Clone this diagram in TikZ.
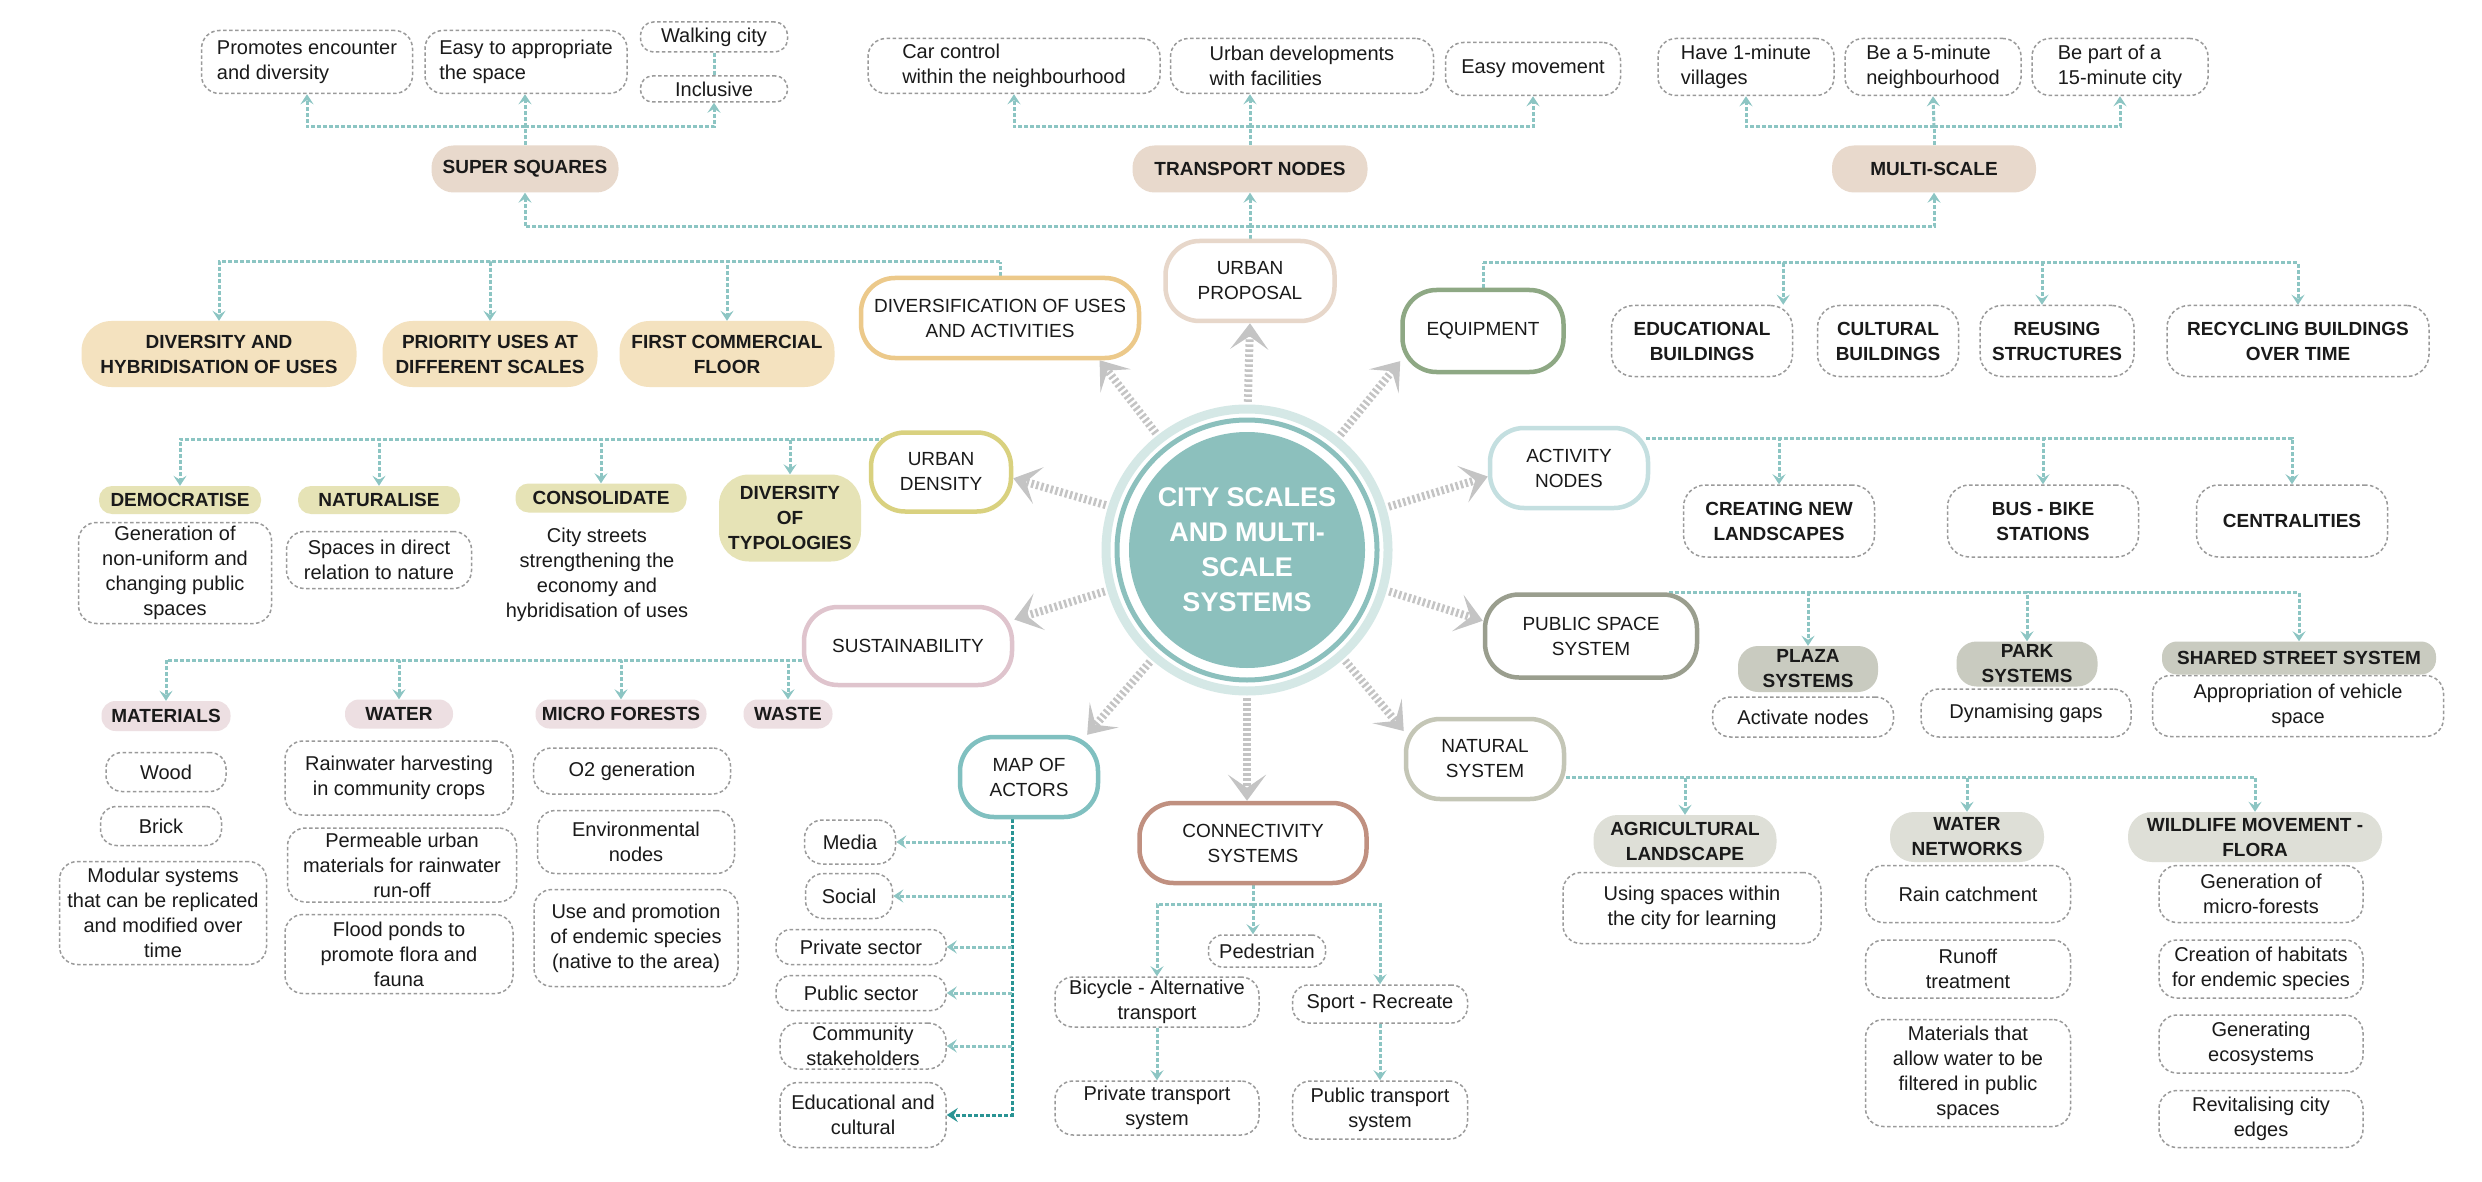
\documentclass[tikz,border=0pt]{standalone}
\usepackage{fontspec}
\setmainfont{Liberation Sans}
\usetikzlibrary{arrows.meta}
\pgfdeclarelayer{bg}
\pgfsetlayers{bg,main}
\definecolor{txt}{HTML}{1A1A1A}
\definecolor{dgray}{HTML}{9A9A9A}
\definecolor{teal1}{HTML}{8CC5C3}
\definecolor{teald}{HTML}{2A9494}
\definecolor{biggray}{HTML}{C4C4C4}
\definecolor{csq}{HTML}{E8D9CC}
\definecolor{ctan}{HTML}{F4E2BF}
\definecolor{colv}{HTML}{E6E3B6}
\definecolor{cpnk}{HTML}{EDDFE2}
\definecolor{cgry}{HTML}{C9CBC0}
\definecolor{clgy}{HTML}{DEDFD7}
\definecolor{cdisc}{HTML}{8CC0BD}
\definecolor{cring}{HTML}{D5E8E6}
\definecolor{upc}{HTML}{E7D7CA}
\definecolor{divc}{HTML}{ECC98A}
\definecolor{eqc}{HTML}{8EA884}
\definecolor{udc}{HTML}{D9D17F}
\definecolor{anc}{HTML}{C4DFE0}
\definecolor{susc}{HTML}{DFC4CD}
\definecolor{psc}{HTML}{9A9E8E}
\definecolor{nsc}{HTML}{C4C6B6}
\definecolor{mac}{HTML}{80C0C0}
\definecolor{csc}{HTML}{C09080}
\begin{document}
\begin{tikzpicture}[x=1pt,y=-1pt,
  nb/.style={align=center, inner sep=0pt, text=txt},
  dbox/.style={nb, draw=dgray, line width=1.5pt, dash pattern=on 3.5pt off 2.5pt, rounded corners=#1, fill=white, font=\fontsize{20}{25}\selectfont},
  dbox/.default=18pt,
  dboxb/.style={dbox=#1, font=\bfseries\fontsize{19}{25}\selectfont},
  dboxb/.default=22pt,
  hdr/.style={nb, rounded corners=#1, font=\bfseries\fontsize{19}{25}\selectfont},
  sat/.style={nb, draw=#1, line width=4.5pt, rounded corners=34pt, fill=white, font=\fontsize{19}{25}\selectfont},
  wh/.style 2 args={minimum width=#1pt, minimum height=#2pt},
  tl/.style={draw=teal1, line width=3pt, dash pattern=on 4pt off 2pt},
  tla/.style={tl, -{Stealth[length=10pt,width=13pt,inset=4pt]}},
  tld/.style={draw=teald, line width=3pt, dash pattern=on 4pt off 2pt, -{Stealth[length=11pt,width=14pt,inset=4pt]}},
  big/.style={draw=biggray, line width=8pt, dash pattern=on 2.5pt off 2.5pt, shorten <=30pt, -{Stealth[length=26pt,width=38pt,inset=13pt]}},
]
\begin{pgfonlayer}{bg}
\path[use as bounding box, fill=white] (0,0) rectangle (2482,1182);
\end{pgfonlayer}

% ---------- centre ----------
\node[circle, fill=cdisc, minimum size=236pt, inner sep=0pt, text=white, align=center, font=\bfseries\fontsize{27}{35}\selectfont] (c) at (1247,550) {CITY SCALES\\AND MULTI-\\SCALE\\SYSTEMS};
\draw[cdisc, line width=5pt] (c.center) circle[radius=130pt];
\draw[cring, line width=9pt] (c.center) circle[radius=141pt];

% ---------- satellites ----------
\node[sat=upc, wh={169}{80}] (up) at (1250,281) {URBAN\\PROPOSAL};
\node[sat=divc, wh={278}{80}] (div) at (1000,318) {DIVERSIFICATION OF USES\\AND ACTIVITIES};
\node[sat=eqc, wh={161}{82}] (eq) at (1483,331) {EQUIPMENT};
\node[sat=udc, wh={140}{79}] (ud) at (941,472) {URBAN\\DENSITY};
\node[sat=anc, wh={158}{80}] (an) at (1569,468) {ACTIVITY\\NODES};
\node[sat=susc, wh={208}{78}] (sus) at (908,646) {SUSTAINABILITY};
\node[sat=psc, wh={212}{83}] (ps) at (1591,636) {PUBLIC SPACE\\SYSTEM};
\node[sat=mac, wh={138}{80}] (ma) at (1029,777) {MAP OF\\ACTORS};
\node[sat=csc, wh={227}{80}] (cs) at (1253,843) {CONNECTIVITY\\SYSTEMS};
\node[sat=nsc, wh={158}{80}] (ns) at (1485,759) {NATURAL\\SYSTEM};

% ---------- top: super squares ----------
\node[hdr=22pt, fill=csq, wh={187}{47}] (ss) at (525,169) {SUPER SQUARES};
\node[dbox, wh={211}{63}, align=left] (promo) at (307,62) {Promotes encounter\\and diversity};
\node[dbox, wh={202}{63}, align=left] (easy) at (526,62) {Easy to appropriate\\the space};
\node[dbox=13pt, wh={147}{30}] (walk) at (714,37) {Walking city};
\node[dbox=12pt, wh={147}{26}] (incl) at (714,89) {Inclusive};

% ---------- top: transport nodes ----------
\node[hdr=22pt, fill=csq, wh={235}{47}] (tn) at (1250,169) {TRANSPORT NODES};
\node[dbox, wh={292}{55}, align=left] (car) at (1014,66) {Car control\\within the neighbourhood};
\node[dbox, wh={263}{55}, align=left] (urbdev) at (1302,66) {Urban developments\\with facilities};
\node[dbox, wh={175}{53}] (easym) at (1533,69) {Easy movement};

% ---------- top: multi-scale ----------
\node[hdr=22pt, fill=csq, wh={204}{47}] (ms) at (1934,169) {MULTI-SCALE};
\node[dbox, wh={176}{57}, align=left] (have) at (1746,67) {Have 1-minute\\villages};
\node[dbox, wh={176}{57}, align=left] (be5) at (1933,67) {Be a 5-minute\\neighbourhood};
\node[dbox, wh={176}{57}, align=left] (be15) at (2120,67) {Be part of a\\15-minute city};

% ---------- diversification ----------
\node[hdr=30pt, fill=ctan, wh={275}{66}] (dh) at (219,354) {DIVERSITY AND\\HYBRIDISATION OF USES};
\node[hdr=30pt, fill=ctan, wh={215}{66}] (pu) at (490,354) {PRIORITY USES AT\\DIFFERENT SCALES};
\node[hdr=30pt, fill=ctan, wh={215}{66}] (fc) at (727,354) {FIRST COMMERCIAL\\FLOOR};

% ---------- equipment ----------
\node[dboxb, wh={181}{71}] (ed) at (1702,341) {EDUCATIONAL\\BUILDINGS};
\node[dboxb, wh={141}{71}] (cu) at (1888,341) {CULTURAL\\BUILDINGS};
\node[dboxb, wh={154}{71}] (re) at (2057,341) {REUSING\\STRUCTURES};
\node[dboxb, wh={262}{71}] (rc) at (2298,341) {RECYCLING BUILDINGS\\OVER TIME};

% ---------- urban density ----------
\node[hdr=13pt, fill=colv, wh={162}{28}] (dem) at (180,500) {DEMOCRATISE};
\node[hdr=13pt, fill=colv, wh={162}{28}] (nat) at (379,500) {NATURALISE};
\node[hdr=13pt, fill=colv, wh={171}{29}] (cons) at (601,498) {CONSOLIDATE};
\node[hdr=30pt, fill=colv, wh={142}{87}] (dot) at (790,518) {DIVERSITY\\OF\\TYPOLOGIES};
\node[dbox, wh={193}{101}] (gen) at (175,573) {Generation of\\non-uniform and\\changing public\\spaces};
\node[dbox, wh={185}{57}] (spa) at (379,560) {Spaces in direct\\relation to nature};
\node[nb, font=\fontsize{20}{25}\selectfont] (city) at (597,575) {City streets\\strengthening the\\economy and\\hybridisation of uses};

% ---------- activity nodes ----------
\node[dboxb, wh={191}{72}] (cnl) at (1779,521) {CREATING NEW\\LANDSCAPES};
\node[dboxb, wh={191}{72}] (bus) at (2043,521) {BUS - BIKE\\STATIONS};
\node[dboxb, wh={191}{72}] (cen) at (2292,521) {CENTRALITIES};

% ---------- public space ----------
\node[dbox, wh={181}{40}] (act) at (1803,717) {Activate nodes};
\node[dbox, wh={210}{48}] (dyn) at (2026,713) {Dynamising gaps};
\node[dbox, wh={291}{61}] (appr) at (2298,706) {Appropriation of vehicle\\space};
\node[hdr=20pt, fill=cgry, wh={140}{46}] (plaza) at (1808,669) {PLAZA\\SYSTEMS};
\node[hdr=20pt, fill=cgry, wh={141}{45}] (park) at (2027,664) {PARK\\SYSTEMS};
\node[hdr=15pt, fill=cgry, wh={274}{33}] (shared) at (2299,658) {SHARED STREET SYSTEM};

% ---------- sustainability ----------
\node[hdr=14pt, fill=cpnk, wh={129}{30}] (mat) at (166,716) {MATERIALS};
\node[hdr=14pt, fill=cpnk, wh={108}{29}] (wat) at (399,714) {WATER};
\node[hdr=14pt, fill=cpnk, wh={171}{29}] (mic) at (621,714) {MICRO FORESTS};
\node[hdr=14pt, fill=cpnk, wh={89}{29}] (was) at (788,714) {WASTE};
\node[dbox=16pt, wh={120}{39}] (wood) at (166,772) {Wood};
\node[dbox=16pt, wh={121}{39}] (brick) at (161,826) {Brick};
\node[dbox, wh={207}{103}] (mod) at (163,913) {Modular systems\\that can be replicated\\and modified over\\time};
\node[dbox, wh={228}{74}] (rain) at (399,778) {Rainwater harvesting\\in community crops};
\node[dbox, wh={229}{74}] (perm) at (402,865) {Permeable urban\\materials for rainwater\\run-off};
\node[dbox, wh={228}{79}] (flood) at (399,954) {Flood ponds to\\promote flora and\\fauna};
\node[dbox, wh={197}{46}] (otwo) at (632,771) {O2 generation};
\node[dbox, wh={197}{63}] (env) at (636,842) {Environmental\\nodes};
\node[dbox, wh={204}{97}] (usep) at (636,938) {Use and promotion\\of endemic species\\(native to the area)};

% ---------- map of actors ----------
\node[dbox, wh={91}{44}] (media) at (850,842) {Media};
\node[dbox, wh={87}{45}] (social) at (849,896) {Social};
\node[dbox=15pt, wh={170}{35}] (priv) at (861,947) {Private sector};
\node[dbox=15pt, wh={170}{35}] (pub) at (861,993) {Public sector};
\node[dbox, wh={166}{46}] (comm) at (863,1046) {Community\\stakeholders};
\node[dbox, wh={166}{65}] (educ) at (863,1115) {Educational and\\cultural};

% ---------- connectivity ----------
\node[dbox=14pt, wh={117}{32}] (ped) at (1267,951) {Pedestrian};
\node[dbox, wh={204}{50}] (bic) at (1157,1002) {Bicycle - Alternative\\transport};
\node[dbox=16pt, wh={175}{38}] (sport) at (1380,1004) {Sport - Recreate};
\node[dbox, wh={204}{54}] (ptr) at (1157,1108) {Private transport\\system};
\node[dbox, wh={175}{58}] (pubt) at (1380,1110) {Public transport\\system};

% ---------- natural system ----------
\node[hdr=24pt, fill=clgy, wh={183}{52}] (agri) at (1685,841) {AGRICULTURAL\\LANDSCAPE};
\node[hdr=24pt, fill=clgy, wh={154}{50}] (wnet) at (1967,837) {WATER\\NETWORKS};
\node[hdr=24pt, fill=clgy, wh={254}{50}] (wild) at (2255,837) {WILDLIFE MOVEMENT -\\FLORA};
\node[dbox, wh={258}{71}] (usp) at (1692,908) {Using spaces within\\the city for learning};
\node[dbox, wh={205}{57}] (rainc) at (1968,894) {Rain catchment};
\node[dbox, wh={205}{58}] (runoff) at (1968,969) {Runoff\\treatment};
\node[dbox, wh={205}{107}] (matw) at (1968,1073) {Materials that\\allow water to be\\filtered in public\\spaces};
\node[dbox, wh={204}{57}] (genm) at (2261,894) {Generation of\\micro-forests};
\node[dbox, wh={204}{58}] (crea) at (2261,969) {Creation of habitats\\for endemic species};
\node[dbox, wh={204}{58}] (gene) at (2261,1044) {Generating\\ecosystems};
\node[dbox, wh={204}{57}] (revi) at (2261,1119) {Revitalising city\\edges};

% ---------- connectors ----------
\begin{pgfonlayer}{bg}
% big grey arrows
\draw[big] (c.90) -- (up.south);
\draw[big] (c.128) -- (div.-23);
\draw[big] (c.51) -- (eq.200);
\draw[big] (c.162) -- (ud.-5);
\draw[big] (c.17) -- (an.186);
\draw[big] (c.196) -- (sus.14);
\draw[big] (c.-16) -- (ps.172);
\draw[big] (c.229) -- (ma.36);
\draw[big] (c.-90) -- (c.-90 |- cs.north);
\draw[big] (c.-48) -- (ns.161);

% upper tree
\coordinate (upj) at (1250,227);
\draw[tla] (up.north) -- (tn.south);
\draw[tla] (upj) -| (ss.south);
\draw[tla] (upj) -| (ms.south);

\coordinate (ssj) at (525,127);
\draw[tl] (ss.north) -- (ssj);
\draw[tla] (ssj) -| (promo.south);
\draw[tla] (ssj) -- (ssj |- easy.south);
\draw[tla] (ssj) -| (incl.south);
\draw[tl] (walk.south) -- (incl.north);

\coordinate (tnj) at (1250,127);
\draw[tl] (tn.north) -- (tnj);
\draw[tla] (tnj) -| (car.south);
\draw[tla] (tnj) -- (tnj |- urbdev.south);
\draw[tla] (tnj) -| (easym.south);

\coordinate (msj) at (1934,127);
\draw[tl] (ms.north) -- (msj);
\draw[tla] (msj) -| (have.south);
\draw[tla] (msj) -- (be5.south);
\draw[tla] (msj) -| (be15.south);

% diversification
\coordinate (divj) at (1000,262);
\draw[tl] (div.north) -- (divj);
\draw[tla] (divj) -| (dh.north);
\draw[tla] (divj) -| (pu.north);
\draw[tla] (divj) -| (fc.north);

% equipment
\coordinate (eqj) at (1483,263);
\draw[tl] (eq.north) -- (eqj);
\draw[tla] (eqj) -| ([xshift=-10pt]ed.north east);
\draw[tla] (eqj) -| ([xshift=-15pt]re.north);
\draw[tla] (eqj) -| (rc.north);

% urban density
\coordinate (udj) at (885,439);
\draw[tla] (udj) -| (dem.north);
\draw[tla] (udj) -| (nat.north);
\draw[tla] (udj) -| (cons.north);
\draw[tla] (udj) -| (dot.north);

% sustainability
\coordinate (susj) at ([yshift=-14pt]sus.west);
\draw[tla] (susj) -| (mat.north);
\draw[tla] (susj) -| (wat.north);
\draw[tla] (susj) -| (mic.north);
\draw[tla] (susj) -| (was.north);

% activity nodes
\coordinate (anj) at ([yshift=30pt,xshift=-4pt]an.east);
\draw[tla] (anj) -| (cnl.north);
\draw[tla] (anj) -| (bus.north);
\draw[tla] (anj) -| (cen.north);

% public space
\coordinate (psj) at ([xshift=-30pt]ps.north east);
\draw[tla] (psj) -| (plaza.north);
\draw[tla] (psj) -| (park.north);
\draw[tla] (psj) -| (shared.north);

% natural system
\coordinate (nsj) at ([yshift=-18pt]ns.east);
\draw[tla] (nsj) -| (agri.north);
\draw[tla] (nsj) -| (wnet.north);
\draw[tla] (nsj) -| (wild.north);

% map of actors
\coordinate (maj) at ([xshift=-17pt]ma.south);
\draw[tld] (maj) |- (educ.east);
\draw[tla] (media.east -| maj) -- (media.east);
\draw[tla] (social.east -| maj) -- (social.east);
\draw[tla] (priv.east -| maj) -- (priv.east);
\draw[tla] (pub.east -| maj) -- (pub.east);
\draw[tla] (comm.east -| maj) -- (comm.east);

% connectivity
\coordinate (csj) at ([yshift=-19pt]cs.south);
\draw[tl] (cs.south) -- (csj);
\draw[tla] (csj) -- (csj |- ped.north);
\draw[tla] (csj) -| (bic.north);
\draw[tla] (csj) -| (sport.north);
\draw[tla] (bic.south) -- (ptr.north);
\draw[tla] (sport.south) -- (pubt.north);
\end{pgfonlayer}
\end{tikzpicture}
\end{document}
